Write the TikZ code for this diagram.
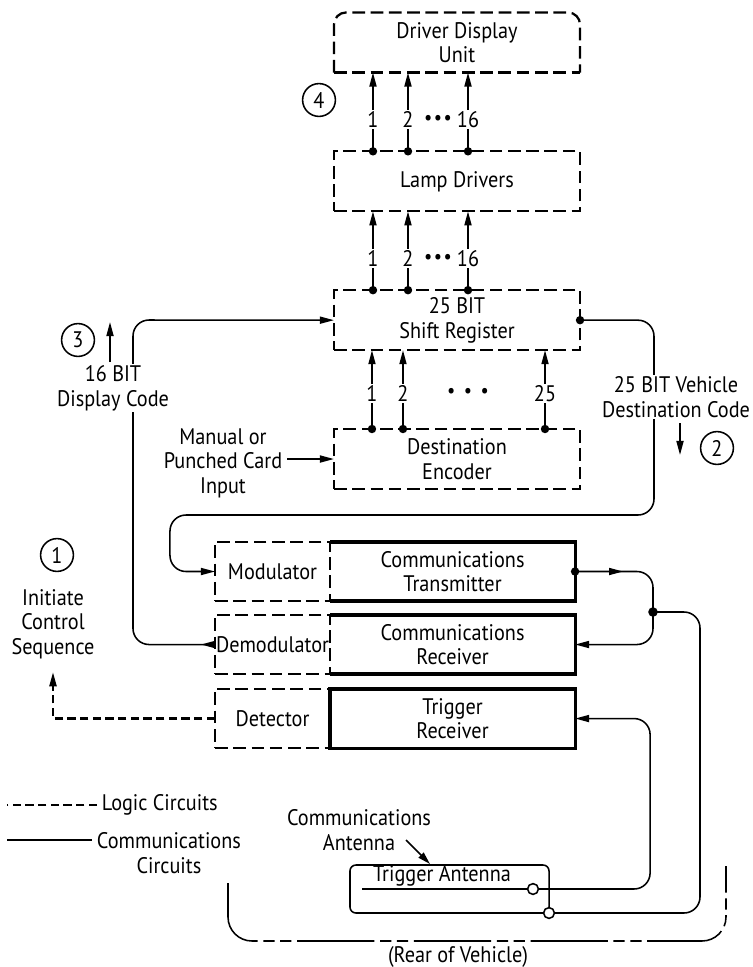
\documentclass[tikz,border=0pt]{standalone}
\usepackage{fontspec}
\setmainfont{PT Sans}[FakeStretch=0.9]
\usetikzlibrary{arrows.meta,positioning,decorations.markings}

\begin{document}
\begin{tikzpicture}[
  x=0.025cm, y=-0.025cm,
  font=\fontsize{16}{17.5}\selectfont,
  node distance=1.97cm and 0pt,
  >={Triangle[length=10pt,width=5pt]},
  dashbox/.style={line width=1.6pt, dash pattern=on 9pt off 4pt},
  logicbox/.style={draw, dashbox, minimum width=6.15cm, minimum height=1.5cm, align=center, outer sep=0pt},
  lbox/.style={logicbox, minimum width=2.875cm, minimum height=1.475cm, inner xsep=0pt},
  cbox/.style={draw, line width=2.2pt, minimum width=6.125cm, minimum height=1.475cm, align=center, outer sep=0pt},
  bus/.style={->, line width=1.2pt},
  wire/.style={line width=1.1pt, rounded corners=0.4cm},
  logicline/.style={line width=1.5pt, dash pattern=on 6pt off 3pt},
  midarrow/.style={postaction={decorate}, decoration={markings, mark=at position #1 with {\arrow{>}}}},
  tag/.style={circle, draw, line width=1.1pt, minimum size=0.82cm, inner sep=0pt},
  port/.style={circle, draw, fill=white, line width=1.1pt, minimum size=0.27cm, inner sep=0pt},
  lbl/.style={fill=white, inner sep=1pt}
]
\useasboundingbox (0,0) rectangle (753,967);

% display chain
\node[logicbox, draw=none] (ddu) at (457,42.5) {Driver Display\\Unit};
\draw[dashbox, rounded corners=0.3cm] (ddu.south west) -- (ddu.north west) -- (ddu.north east) -- (ddu.south east);
\draw[dashbox] (ddu.south west) -- (ddu.south east);
\node[logicbox, below=of ddu] (ld) {Lamp Drivers};
\node[logicbox, below=of ld] (sr) {25 BIT\\Shift Register};
\node[logicbox, below=of sr] (enc) {Destination\\Encoder};

% parallel bit lines
\foreach \dx/\lab in {0.975cm/1, 1.85cm/2, 3.35cm/16} {
  \draw[bus] ([xshift=\dx]ld.north west) -- ([xshift=\dx]ddu.south west) node[lbl, pos=0.4] {\lab};
  \draw[bus] ([xshift=\dx]sr.north west) -- ([xshift=\dx]ld.south west) node[lbl, pos=0.4] {\lab};
  \fill ([xshift=\dx]ld.north west) circle (3pt);
  \fill ([xshift=\dx]sr.north west) circle (3pt);
}
\foreach \dx/\lab in {0.95cm/1, 1.725cm/2, 5.275cm/25} {
  \draw[bus] ([xshift=\dx]enc.north west) -- ([xshift=\dx]sr.south west) node[lbl, pos=0.45] {\lab};
  \fill ([xshift=\dx]enc.north west) circle (3pt);
}
\node (dots1) at ([shift={(2.6cm,0.78cm)}]ld.north west) {\Large\textbullet\hspace{1pt}\textbullet\hspace{1pt}\textbullet};
\node (dots2) at ([shift={(2.6cm,0.78cm)}]sr.north west) {\Large\textbullet\hspace{1pt}\textbullet\hspace{1pt}\textbullet};
\node (dots3) at ([shift={(3.35cm,0.9cm)}]enc.north west) {\Large\textbullet\hspace{6pt}\textbullet\hspace{6pt}\textbullet};
\node[tag] (t4) at (319,100) {4};

% communications stack
\node[lbox] (mod) at (272.5,571.5) {Modulator};
\node[cbox, draw=none, right=0pt of mod] (tx) {Communications\\Transmitter};
\draw[line width=2.2pt] (tx.north west) -- (tx.north east) -- (tx.south east) -- (tx.south west);
\node[lbox, below=0.35cm of mod] (demod) {Demodulator};
\node[cbox, draw=none, right=0pt of demod] (rx) {Communications\\Receiver};
\draw[line width=2.2pt] (rx.north west) -- (rx.north east) -- (rx.south east) -- (rx.south west);
\node[lbox, below=0.375cm of demod] (det) {Detector};
\node[cbox, right=0pt of det] (trx) {Trigger\\Receiver};

% destination code to modulator
\draw[wire, ->] (sr.east) -| (654,515) -| ([xshift=-1.125cm]mod.west) -- (mod.west);
\fill (sr.east) circle (3pt);
\node[lbl, align=center] (destcode) at (676,397) {25 BIT Vehicle\\Destination Code};
\draw[->, line width=1.2pt] (680,423) -- (680,455);
\node[tag] (t2) at (717,448) {2};

% display code back to shift register
\draw[wire, {Triangle[length=10pt,width=5pt,reversed]}->] (demod.west) -| (133,320) -- (sr.west);
\node[lbl, align=center] (dispcode) at (113,388) {16 BIT\\Display Code};
\draw[->, line width=1.2pt] (110,362) -- (110,322);
\node[tag] (t3) at (78,340) {3};

% manual input
\node[align=center] (manual) at (223,463) {Manual or\\Punched Card\\Input};
\draw[->, line width=1.2pt] (manual.east |- enc.west) -- (enc.west);

% transmitter / receiver loop
\coordinate (junc) at (653,612);
\draw[wire, ->, midarrow=1.2cm] (tx.east) -| (junc) |- (rx.east);
\fill (tx.east) circle (3pt);
\fill (junc) circle (3.4pt);

% antennas
\node[draw, line width=1.1pt, rounded corners=0.15cm, minimum width=4.975cm, minimum height=1.2cm] (antbox) at (449.5,889) {};
\node (trigtext) at (442,876) {Trigger Antenna};
\node[port] (tant) at (533,889) {};
\node[port] (cant) at (549,913) {};
\coordinate (tantend) at (362,889);
\draw[line width=1.1pt] (tantend) -- (tant);
\draw[wire, ->] (tant) -| ([xshift=1.875cm]trx.east) -- (trx.east);
\draw[wire] (cant) -| (700,612) -- (junc);
\node[align=center] (commant) at (359,830) {Communications\\Antenna};
\draw[-{Triangle[length=9pt,width=5pt]}, line width=1.1pt] (406,840) -- (430,864);

% detector output
\node[align=center] (init) at (53,624) {Initiate\\Control\\Sequence};
\draw[logicline, ->] (det.west) -| ([yshift=-6pt]init.south);
\node[tag] (t1) at (57,555) {1};

% legend
\node[anchor=west] (leglogic) at (97,805) {Logic Circuits};
\draw[logicline] (leglogic.west) -- ++(-90,0);
\node[align=center, anchor=north west] (legcomm) at (92,828) {Communications\\Circuits};
\draw[line width=1.5pt] (7,840) -- (92,840);

% rear of vehicle
\draw[line width=1.1pt, rounded corners=0.6cm, dash pattern=on 55pt off 4pt on 8pt off 4pt on 8pt off 4pt] (228,883) -- (228,941) -- (726,941) -- (726,866);
\node (rear) at (458,957) {(Rear of Vehicle)};
\end{tikzpicture}
\end{document}
